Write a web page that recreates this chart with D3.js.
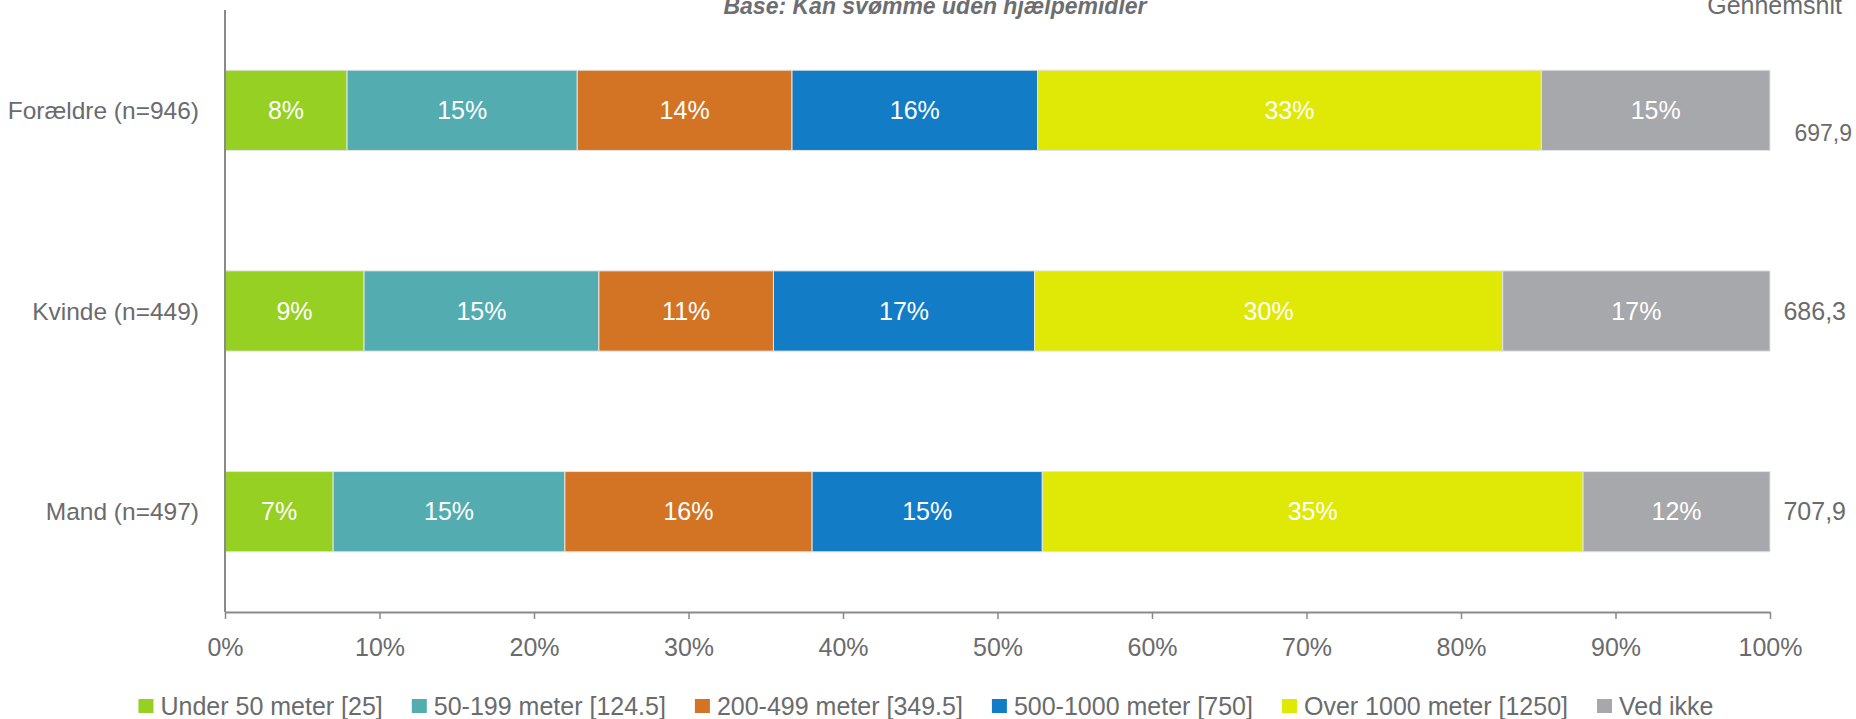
<!DOCTYPE html>
<html>
<head>
<meta charset="utf-8">
<script src="https://cdn.jsdelivr.net/npm/d3@7"></script>
<style>
  body { margin: 0; background: #fff; }
  text { font-family: "Liberation Sans Narrow", "Arial Narrow", "Liberation Sans", sans-serif; }
</style>
</head>
<body>
<div id="chart"></div>
<script>
// rows, top to bottom
const categories = ["Forældre (n=946)", "Kvinde (n=449)", "Mand (n=497)"];
const seriesNames = ["Under 50 meter [25]", "50-199 meter [124.5]", "200-499 meter [349.5]",
                     "500-1000 meter [750]", "Over 1000 meter [1250]", "Ved ikke"];
const seriesColors = ["#96d022", "#53acb0", "#d37425", "#127dc6", "#e0e806", "#a7a8ab"];
// share of each row (percent), one array per series
const under50   = [7.9, 9.0, 7.0];
const m50_199   = [14.9, 15.2, 15.0];
const m200_499  = [13.9, 11.3, 16.0];
const m500_1000 = [15.9, 16.9, 14.9];
const over1000  = [32.6, 30.3, 35.0];
const vedIkke   = [14.8, 17.3, 12.1];
// labels printed in the bars
const labelsUnder50   = ["8%", "9%", "7%"];
const labels50_199    = ["15%", "15%", "15%"];
const labels200_499   = ["14%", "11%", "16%"];
const labels500_1000  = ["16%", "17%", "15%"];
const labelsOver1000  = ["33%", "30%", "35%"];
const labelsVedIkke   = ["15%", "17%", "12%"];
// average distance, right column
const averages = ["697,9", "686,3", "707,9"];
const xTicks = [0, 10, 20, 30, 40, 50, 60, 70, 80, 90, 100];
const subtitle = "Base: Kan svømme uden hjælpemidler";
const avgTitle = "Gennemsnit";

const width = 1856, height = 719;
const margin = {top: 10, right: 86, bottom: 107, left: 225};
const textColor = "#6a6b6d";
const fontSize = 25;

const values = [under50, m50_199, m200_499, m500_1000, over1000, vedIkke];
const labels = [labelsUnder50, labels50_199, labels200_499, labels500_1000, labelsOver1000, labelsVedIkke];

const svg = d3.select("#chart").append("svg")
    .attr("width", width)
    .attr("height", height);

const x = d3.scaleLinear()
    .domain([0, 100])
    .range([margin.left, width - margin.right]);

const y = d3.scaleBand()
    .domain(categories)
    .range([margin.top, height - margin.bottom])
    .paddingInner(0.6)
    .paddingOuter(0.3);

// stack the segments for every row
let segments = [];
categories.forEach(function (cat, r) {
    let start = 0;
    values.forEach(function (s, k) {
        segments.push({cat: cat, k: k, x0: start, x1: start + s[r], label: labels[k][r]});
        start += s[r];
    });
});

let bars = svg.append("g");
bars.selectAll("rect")
    .data(segments)
    .enter().append("rect")
    .attr("x", d => x(d.x0))
    .attr("y", d => y(d.cat))
    .attr("width", d => x(d.x1) - x(d.x0))
    .attr("height", y.bandwidth())
    .attr("fill", d => seriesColors[d.k])
    .attr("stroke", "#e4e4e4")
    .attr("stroke-width", 1);

bars.selectAll("text")
    .data(segments)
    .enter().append("text")
    .attr("x", d => (x(d.x0) + x(d.x1)) / 2)
    .attr("y", d => y(d.cat) + y.bandwidth() / 2)
    .attr("dy", "0.35em")
    .attr("text-anchor", "middle")
    .attr("fill", "#fff")
    .style("font-size", fontSize + "px")
    .text(d => d.label);

// x axis
let xAxis = svg.append("g")
    .attr("transform", "translate(0," + (height - margin.bottom) + ")")
    .call(d3.axisBottom(x).tickValues(xTicks).tickFormat(d => d + "%").tickSize(7).tickSizeOuter(0).tickPadding(19));
xAxis.select(".domain").attr("stroke", "#8a8a8a").attr("stroke-width", 2);
xAxis.selectAll(".tick line").attr("stroke", "#8a8a8a").attr("stroke-width", 1.5);
xAxis.selectAll(".tick text")
    .attr("fill", textColor)
    .style("font-size", fontSize + "px")
    .style("font-family", null);

// y axis line, category labels
svg.append("line")
    .attr("x1", x(0)).attr("x2", x(0))
    .attr("y1", margin.top).attr("y2", height - margin.bottom)
    .attr("stroke", "#8a8a8a")
    .attr("stroke-width", 2);

svg.append("g").selectAll("text")
    .data(categories)
    .enter().append("text")
    .attr("x", x(0) - 26)
    .attr("y", d => y(d) + y.bandwidth() / 2)
    .attr("dy", "0.35em")
    .attr("text-anchor", "end")
    .attr("fill", textColor)
    .style("font-size", (fontSize - 0.5) + "px")
    .text(d => d);

// averages on the right (the first one sits a little lower and smaller)
svg.append("g").selectAll("text")
    .data(averages)
    .enter().append("text")
    .attr("x", (d, i) => width - (i == 0 ? 4 : 10))
    .attr("y", (d, i) => y(categories[i]) + y.bandwidth() / 2 + (i == 0 ? 23 : 0))
    .attr("dy", "0.35em")
    .attr("text-anchor", "end")
    .attr("fill", textColor)
    .style("font-size", (d, i) => (i == 0 ? fontSize - 2 : fontSize) + "px")
    .text(d => d);

svg.append("text")
    .attr("x", width - 14)
    .attr("y", 14)
    .attr("text-anchor", "end")
    .attr("fill", textColor)
    .style("font-size", fontSize + "px")
    .text(avgTitle);

svg.append("text")
    .attr("x", width / 2 + 7)
    .attr("y", 14)
    .attr("text-anchor", "middle")
    .attr("fill", "#6d6e71")
    .style("font-size", "23px")
    .style("font-weight", "bold")
    .style("font-style", "italic")
    .text(subtitle);

// legend, laid out left to right and centred
let legend = svg.append("g");
let items = legend.selectAll("g")
    .data(seriesNames)
    .enter().append("g");
items.append("rect")
    .attr("width", 15)
    .attr("height", 14)
    .attr("y", -7)
    .attr("fill", (d, i) => seriesColors[i]);
items.append("text")
    .attr("x", 22)
    .attr("dy", "0.35em")
    .attr("fill", textColor)
    .style("font-size", fontSize + "px")
    .text(d => d);

let gap = 29;
let pos = 0;
items.each(function () {
    let w = d3.select(this).select("text").node().getComputedTextLength();
    d3.select(this).attr("transform", "translate(" + pos + ",0)");
    pos += 22 + w + gap;
});
let legendWidth = pos - gap;
legend.attr("transform", "translate(" + (width / 2 - 2 - legendWidth / 2) + ",706)");
</script>
</body>
</html>
